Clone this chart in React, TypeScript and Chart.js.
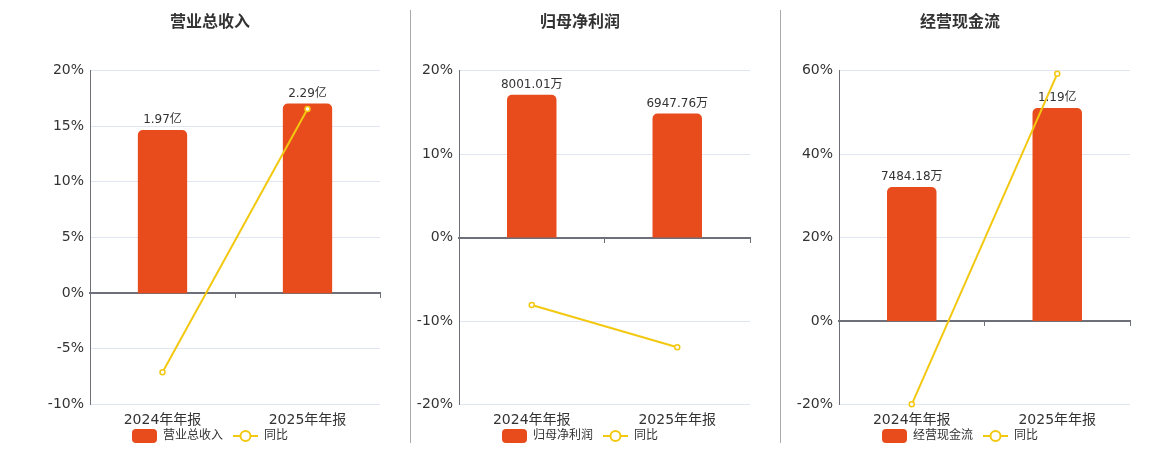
import React, { useEffect, useRef } from 'react';
import { Chart, registerables } from 'chart.js';

Chart.register(...registerables);

// ---------- data ----------
const categories = ['2024年年报', '2025年年报'];

const revenueTitle = '营业总收入';
const revenueValues = [1.97, 2.29]; // 亿
const revenueLabels = ['1.97亿', '2.29亿'];
const revenueYoY = [-7.1, 16.55]; // %
const revenueTicks = [-10, -5, 0, 5, 10, 15, 20];
const revenueBarRange = [-1.345, 2.69];

const profitTitle = '归母净利润';
const profitValues = [8001.01, 6947.76]; // 万
const profitLabels = ['8001.01万', '6947.76万'];
const profitYoY = [-8.08, -13.15];
const profitTicks = [-20, -10, 0, 10, 20];
const profitBarRange = [-9360, 9360];

const cashTitle = '经营现金流';
const cashValues = [7484.18, 11900]; // 万
const cashLabels = ['7484.18万', '1.19亿'];
const cashYoY = [-19.95, 59.2];
const cashTicks = [-20, 0, 20, 40, 60];
const cashBarRange = [-4667, 14000];

const yoyName = '同比';

// ---------- style ----------
const FONT = "'DejaVu Sans', 'Noto Sans CJK SC', sans-serif";
const BAR_COLOR = '#E84B1C';
const LINE_COLOR = '#F2C811';
const AXIS_COLOR = '#6E7079';
const GRID_COLOR = '#E0E6F1';
const TEXT_COLOR = '#333333';

function roundRectPath(ctx: CanvasRenderingContext2D, x: number, y: number, w: number, h: number, r: number) {
  ctx.beginPath();
  ctx.moveTo(x + r, y);
  ctx.lineTo(x + w - r, y);
  ctx.arcTo(x + w, y, x + w, y + r, r);
  ctx.lineTo(x + w, y + h - r);
  ctx.arcTo(x + w, y + h, x + w - r, y + h, r);
  ctx.lineTo(x + r, y + h);
  ctx.arcTo(x, y + h, x, y + h - r, r);
  ctx.lineTo(x, y + r);
  ctx.arcTo(x, y, x + r, y, r);
  ctx.closePath();
}

function makeBarIcon() {
  const c = document.createElement('canvas');
  c.width = 25;
  c.height = 14;
  const ctx = c.getContext('2d')!;
  ctx.fillStyle = BAR_COLOR;
  roundRectPath(ctx, 0, 0, 25, 14, 4);
  ctx.fill();
  return c;
}

function makeLineIcon() {
  const c = document.createElement('canvas');
  c.width = 25;
  c.height = 14;
  const ctx = c.getContext('2d')!;
  ctx.strokeStyle = LINE_COLOR;
  ctx.lineWidth = 2;
  ctx.beginPath();
  ctx.moveTo(0, 7);
  ctx.lineTo(25, 7);
  ctx.stroke();
  ctx.beginPath();
  ctx.arc(12.5, 7, 5, 0, Math.PI * 2);
  ctx.fillStyle = '#ffffff';
  ctx.fill();
  ctx.stroke();
  return c;
}

type PanelProps = {
  left: number;
  title: string;
  values: number[];
  labels: string[];
  yoy: number[];
  ticks: number[];
  barRange: number[];
  axisWidth: number;
};

function Panel({ left, title, values, labels, yoy, ticks, barRange, axisWidth }: PanelProps) {
  const ref = useRef<HTMLCanvasElement>(null);

  useEffect(() => {
    if (!ref.current) return;
    const barIcon = makeBarIcon();
    const lineIcon = makeLineIcon();
    const step = ticks[1] - ticks[0];
    const yMin = ticks[0];
    const yMax = ticks[ticks.length - 1];

    const barLabelPlugin = {
      id: 'barLabels',
      afterDatasetDraw(chart: any, args: any) {
        if (args.index !== 0) return;
        const ctx = chart.ctx;
        ctx.save();
        ctx.font = `12px ${FONT}`;
        ctx.fillStyle = TEXT_COLOR;
        ctx.textAlign = 'center';
        ctx.textBaseline = 'middle';
        args.meta.data.forEach((el: any, i: number) => {
          ctx.fillText(labels[i], el.x, el.y - 10);
        });
        ctx.restore();
      },
    };

    const chart = new Chart(ref.current, {
      type: 'bar',
      data: {
        labels: categories,
        datasets: [
          {
            type: 'bar',
            label: title,
            data: values,
            xAxisID: 'x',
            yAxisID: 'y1',
            backgroundColor: BAR_COLOR,
            borderRadius: { topLeft: 5, topRight: 5, bottomLeft: 0, bottomRight: 0 },
            borderSkipped: 'start',
            categoryPercentage: 1,
            barPercentage: 0.34,
            order: 1,
          } as any,
          {
            type: 'line',
            label: yoyName,
            data: yoy,
            xAxisID: 'x',
            yAxisID: 'y',
            borderColor: LINE_COLOR,
            borderWidth: 2,
            pointRadius: 2.5,
            pointBorderWidth: 1.5,
            pointBackgroundColor: '#ffffff',
            pointBorderColor: LINE_COLOR,
            tension: 0,
            clip: false,
            order: 0,
          } as any,
        ],
      },
      options: {
        animation: false,
        responsive: false,
        events: [],
        layout: { padding: { left: 20, right: 20, top: 0, bottom: -2 } },
        plugins: {
          title: {
            display: true,
            text: title,
            color: TEXT_COLOR,
            font: { family: FONT, size: 16, weight: 'bold' },
            padding: { top: 13, bottom: 38.3 },
          },
          legend: {
            display: true,
            position: 'bottom',
            labels: {
              usePointStyle: true,
              pointStyleWidth: 25,
              boxHeight: 12,
              padding: 10,
              color: TEXT_COLOR,
              font: { family: FONT, size: 12 },
              generateLabels: () => [
                {
                  text: title,
                  pointStyle: barIcon,
                  fillStyle: BAR_COLOR,
                  strokeStyle: 'rgba(0,0,0,0)',
                  lineWidth: 0,
                  hidden: false,
                  datasetIndex: 0,
                  fontColor: TEXT_COLOR,
                } as any,
                {
                  text: yoyName,
                  pointStyle: lineIcon,
                  fillStyle: '#ffffff',
                  strokeStyle: LINE_COLOR,
                  lineWidth: 0,
                  hidden: false,
                  datasetIndex: 1,
                  fontColor: TEXT_COLOR,
                } as any,
              ],
            },
          },
          tooltip: { enabled: false },
        },
        scales: {
          // data axis for bars and line (space holder for the category labels)
          x: {
            type: 'category',
            position: 'bottom',
            offset: true,
            grid: { display: false, offset: true, drawTicks: false },
            border: { display: false },
            ticks: { display: false },
            afterFit: (s: any) => {
              s.height = 15.5;
            },
          },
          // category labels, placed under the bottom of the plot
          xl: {
            type: 'category',
            labels: categories,
            position: { y: yMin },
            offset: true,
            grid: { display: false, offset: true, drawTicks: false },
            border: { display: false },
            ticks: {
              color: TEXT_COLOR,
              font: { family: FONT, size: 14 },
              padding: 7,
              maxRotation: 0,
              autoSkip: false,
            },
            afterFit: (s: any) => {
              s.height = 0;
            },
          } as any,
          // zero line with its tick marks
          xz: {
            type: 'category',
            labels: categories,
            position: { y: 0 },
            offset: true,
            grid: {
              offset: true,
              drawOnChartArea: false,
              drawTicks: true,
              tickLength: 4,
              tickColor: AXIS_COLOR,
              tickWidth: 1,
            },
            border: { display: true, color: AXIS_COLOR, width: 2 },
            ticks: { display: false },
            afterFit: (s: any) => {
              s.height = 0;
            },
          } as any,
          y: {
            type: 'linear',
            position: 'left',
            min: yMin,
            max: yMax,
            ticks: {
              stepSize: step,
              callback: (v: any) => `${v}%`,
              color: TEXT_COLOR,
              font: { family: FONT, size: 14 },
              padding: 6,
            },
            grid: {
              color: (c: any) => (c.tick && c.tick.value === 0 ? 'rgba(0,0,0,0)' : GRID_COLOR),
              drawTicks: false,
            },
            border: { display: true, color: AXIS_COLOR, width: 1 },
            afterFit: (s: any) => {
              s.width = axisWidth;
            },
          },
          y1: {
            type: 'linear',
            display: false,
            min: barRange[0],
            max: barRange[1],
          },
        },
      } as any,
      plugins: [barLabelPlugin],
    });

    return () => {
      chart.destroy();
    };
  }, []);

  return (
    <canvas
      ref={ref}
      width={380}
      height={450}
      style={{ position: 'absolute', left, top: 0, width: 380, height: 450 }}
    />
  );
}

export default function App() {
  return (
    <div
      style={{
        position: 'absolute',
        left: 0,
        top: 0,
        width: 1160,
        height: 450,
        background: '#ffffff',
        overflow: 'hidden',
      }}
    >
      <Panel
        left={20}
        title={revenueTitle}
        values={revenueValues}
        labels={revenueLabels}
        yoy={revenueYoY}
        ticks={revenueTicks}
        barRange={revenueBarRange}
        axisWidth={50}
      />
      <Panel
        left={390}
        title={profitTitle}
        values={profitValues}
        labels={profitLabels}
        yoy={profitYoY}
        ticks={profitTicks}
        barRange={profitBarRange}
        axisWidth={49}
      />
      <Panel
        left={770}
        title={cashTitle}
        values={cashValues}
        labels={cashLabels}
        yoy={cashYoY}
        ticks={cashTicks}
        barRange={cashBarRange}
        axisWidth={49}
      />
      <div style={{ position: 'absolute', left: 410, top: 10, width: 1, height: 433, background: '#AAAAAA' }} />
      <div style={{ position: 'absolute', left: 780, top: 10, width: 1, height: 433, background: '#AAAAAA' }} />
    </div>
  );
}
